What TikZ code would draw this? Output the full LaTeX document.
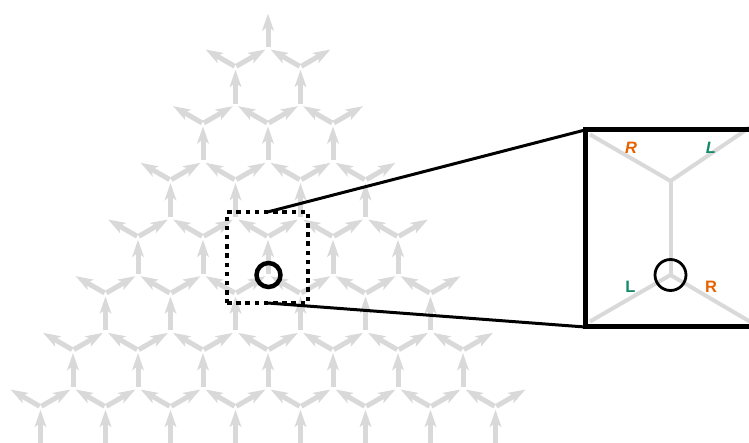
\documentclass[tikz,border=0pt]{standalone}
\usepackage{fontspec}
\setmainfont{Liberation Sans}
\usetikzlibrary{arrows.meta}
\definecolor{latgray}{RGB}{217,217,217}
\definecolor{lblorange}{RGB}{230,97,0}
\definecolor{lblgreen}{RGB}{20,138,106}
\begin{document}
\begin{tikzpicture}[x=1pt,y=-1pt,
  edgearrow/.style={draw=latgray, line width=5pt,
    -{Stealth[length=17pt,width=11.5pt,inset=4pt,fill=latgray]},
    shorten >=3pt, shorten <=1pt},
  dotbox/.style={draw=black, line width=4.5pt, dash pattern=on 4.5pt off 4.7pt,
    minimum width=81pt, minimum height=91pt, outer sep=0pt, inner sep=0pt},
  zoomline/.style={draw=black, line width=3pt},
  zoomframe/.style={draw=black, line width=5pt},
  zoomedge/.style={draw=latgray, line width=4pt},
  lbl/.style={font=\fontsize{16.5}{16.5}\selectfont\bfseries, inner sep=0pt}]
\useasboundingbox (0,0) rectangle (749,443);
\clip (0,0) rectangle (749,443);
\def\W{65}
\def\H{56.667}
\def\D{18.75}
\def\Xo{268}
\def\Yo{48}
% lattice vertices
\foreach \k in {0,...,6} {
  \foreach \j in {0,...,\k} {
    \coordinate (A-\k-\j) at ({\Xo+\W*(\j-\k/2)}, {\Yo+\H*\k});
  }
  \pgfmathtruncatemacro\kk{\k+1}
  \foreach \j in {0,...,\kk} {
    \coordinate (B-\k-\j) at ({\Xo+\W*(\j-\k/2)-\W/2}, {\Yo+\H*\k+\D});
  }
  \coordinate (DL-\k) at ({\Xo+\W*(-\k/2)-\W}, {\Yo+\H*\k});
  \coordinate (DR-\k) at ({\Xo+\W*(\kk-\k/2)}, {\Yo+\H*\k});
}
\coordinate (T) at (\Xo, {\Yo-37.5});
\foreach \j in {0,...,7} {
  \coordinate (BOT-\j) at ({\Xo+\W*(\j-3)-\W/2}, 452);
}
% lattice edges
\draw[edgearrow] (A-0-0) -- (T);
\foreach \k in {0,...,6} {
  \foreach \j in {0,...,\k} {
    \pgfmathtruncatemacro\jj{\j+1}
    \draw[edgearrow] (B-\k-\j) -- (A-\k-\j);
    \draw[edgearrow] (B-\k-\jj) -- (A-\k-\j);
  }
  \pgfmathtruncatemacro\kk{\k+1}
  \draw[edgearrow] (B-\k-0) -- (DL-\k);
  \draw[edgearrow] (B-\k-\kk) -- (DR-\k);
}
\foreach \k in {0,...,5} {
  \pgfmathtruncatemacro\kk{\k+1}
  \foreach \j in {0,...,\kk} {
    \draw[edgearrow] (A-\kk-\j) -- (B-\k-\j);
  }
}
\foreach \j in {0,...,7} {
  \draw[edgearrow] (BOT-\j) -- (B-6-\j);
}
% highlighted region
\node[dotbox] (dsq) at (267.5,257.5) {};
\node[draw=black, line width=4.5pt, circle, minimum size=24pt, inner sep=0pt] (hc) at (268.5,275) {};
% zoom frame
\coordinate (zbtl) at (585,130);
\coordinate (zbbl) at (585,327);
\coordinate (zbbr) at (800,327);
\draw[zoomline] (dsq.north) -- (zbtl);
\draw[zoomline] (dsq.south) -- (zbbl);
% zoomed content
\coordinate (zv1) at (670.5,181);
\coordinate (zv2) at (670.5,275);
\coordinate (zul) at (590,134.5);
\coordinate (zur) at (760,120.5);
\coordinate (zll) at (590,321.5);
\coordinate (zlr) at (760,327.5);
\draw[zoomedge] (zul) -- (zv1) -- (zur);
\draw[zoomedge] (zv1) -- (zv2);
\draw[zoomedge] (zll) -- (zv2) -- (zlr);
\node[draw=black, line width=2.8pt, circle, minimum size=31pt, inner sep=0pt] (zc) at (zv2) {};
\draw[zoomframe] (zbtl) rectangle (zbbr);
\node[lbl, text=lblorange, font=\fontsize{16.5}{16.5}\selectfont\bfseries\itshape] (lr1) at (631,147.5) {R};
\node[lbl, text=lblgreen, font=\fontsize{16.5}{16.5}\selectfont\bfseries\itshape] (ll1) at (711,147.5) {L};
\node[lbl, text=lblgreen] (ll2) at (630.5,287) {L};
\node[lbl, text=lblorange] (lr2) at (711,287) {R};
\end{tikzpicture}
\end{document}
